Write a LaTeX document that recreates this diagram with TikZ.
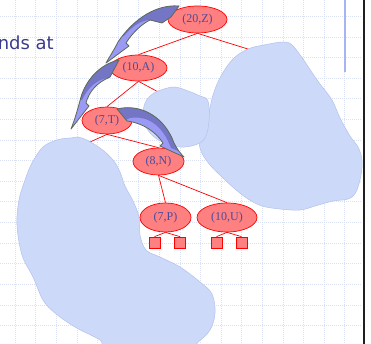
\documentclass[tikz,border=0pt]{standalone}
\usepackage{fontspec}
\setmainfont{Liberation Serif}
\newfontfamily\slidefont{DejaVu Sans}
\usetikzlibrary{shapes.geometric}

\definecolor{gridblue}{HTML}{DAE1F5}
\definecolor{blobfill}{HTML}{CDD9F8}
\definecolor{blobedge}{HTML}{B2C2EE}
\definecolor{nodefill}{HTML}{FF8080}
\definecolor{nodetext}{HTML}{4B4B9B}
\definecolor{slidetext}{HTML}{3C3C8C}
\definecolor{arrowlight}{HTML}{9A9AF4}
\definecolor{arrowdark}{HTML}{7575C6}
\definecolor{arrowedge}{HTML}{5C6B55}
\definecolor{barblue}{HTML}{A6B4F2}

\pgfdeclarelayer{gridlayer}
\pgfdeclarelayer{edgelayer}
\pgfdeclarelayer{bloblayer}
\pgfsetlayers{gridlayer,edgelayer,bloblayer,main}

\tikzset{
  treenode/.style={ellipse, draw=red, fill=nodefill, line width=0.7pt, inner sep=0pt,
    text=nodetext, font=\fontsize{12}{14}\selectfont},
  leafbox/.style={rectangle, draw=red, fill=nodefill, line width=0.7pt,
    minimum size=11pt, inner sep=0pt},
  treeedge/.style={draw=red, line width=0.7pt},
  blob/.style={fill=blobfill, draw=blobedge, line width=0.5pt},
  gridline/.style={draw=gridblue, line width=0.6pt, dash pattern=on 1pt off 1pt},
  arrowoutline/.style={draw=arrowedge, line width=0.8pt, line join=round},
}

\begin{document}
\begin{tikzpicture}[x=1pt, y=-1pt]
\useasboundingbox (0,0) rectangle (371,344);
\clip (0,0) rectangle (371,344);

% slide background, grid, heading fragment, side bars
\begin{pgfonlayer}{gridlayer}
  \fill[white] (0,0) rectangle (371,344);
  \foreach \i in {0,...,16}
    \draw[gridline] ({15+20.6*\i},0) -- ({15+20.6*\i},344);
  \foreach \j in {0,...,16}
    \draw[gridline] (0,{16.4+20.6*\j}) -- (362,{16.4+20.6*\j});
  \node[anchor=base east, inner sep=0pt, text=slidetext,
        font=\slidefont\fontsize{18}{22}\selectfont] (heading) at (54,50) {nds at};
  \draw[barblue, line width=1.5pt] (345,0) -- (345,72);
  \fill[black!88] (362.5,0) rectangle (364.5,344);
\end{pgfonlayer}

% tree nodes
\node[treenode, minimum width=59pt, minimum height=27pt] (z) at (197.5,19.5) {(20,Z)};
\node[treenode, minimum width=57pt, minimum height=26pt] (a) at (138.5,68) {(10,A)};
\node[treenode, minimum width=50pt, minimum height=27pt] (t) at (107,120.5) {(7,T)};
\node[treenode, minimum width=51pt, minimum height=27pt] (n) at (158.5,161.5) {(8,N)};
\node[treenode, minimum width=51pt, minimum height=29pt] (p) at (165.5,217.5) {(7,P)};
\node[treenode, minimum width=60pt, minimum height=29pt] (u) at (227,217.5) {(10,U)};
\node[leafbox] (p1) at (154.5,242.5) {};
\node[leafbox] (p2) at (180,242.5) {};
\node[leafbox] (u1) at (216.5,242.5) {};
\node[leafbox] (u2) at (241.5,242.5) {};

% subtrees hidden behind the blobs
\coordinate (zr) at (280,59);
\coordinate (ar) at (175,101);
\coordinate (tl) at (70,151);

\begin{pgfonlayer}{edgelayer}
  \draw[treeedge] (z.south) -- (a.north);
  \draw[treeedge] (z.south) -- (zr);
  \draw[treeedge] (a.south) -- (t.north);
  \draw[treeedge] (a.south) -- (ar);
  \draw[treeedge] (t.south) -- (n.north);
  \draw[treeedge] (t.south) -- (tl);
  \draw[treeedge] (n.south) -- (p.north);
  \draw[treeedge] (n.south) -- (u.north);
  \draw[treeedge] (p.south) -- (p1.north);
  \draw[treeedge] (p.south) -- (p2.north);
  \draw[treeedge] (u.south) -- (u1.north);
  \draw[treeedge] (u.south) -- (u2.north);
\end{pgfonlayer}

% blobs standing for whole subtrees
\begin{pgfonlayer}{bloblayer}
  \path[blob] plot[smooth cycle, tension=0.6] coordinates {
    (207,120) (213,95) (221,76) (233,59) (248,49) (264,45) (283,42) (292,45)
    (303,59) (311,71) (320,84) (332,100) (340,118) (350,136) (358,147)
    (362,160) (361,175) (356,192) (348,199) (333,201) (315,206) (300,210)
    (280,209) (262,206) (248,199) (235,189) (222,177) (210,165) (201,151) (199,135)};
  \path[blob] plot[smooth cycle, tension=0.6] coordinates {
    (143,113) (146,101) (154,93) (164,89) (175,87) (188,91) (200,96) (208,101)
    (209,121) (205,138) (195,145) (180,147) (165,143) (153,136) (145,125)};
  \path[blob] plot[smooth cycle, tension=0.6] coordinates {
    (43,147) (57,140) (70,138) (82,138) (100,148) (113,160) (120,172) (125,186)
    (133,201) (139,217) (140,235) (146,250) (160,257) (180,267) (200,282)
    (212,294) (215,313) (210,330) (198,342) (185,350) (110,350) (100,340)
    (75,327) (55,313) (43,300) (33,277) (22,255) (17,225) (19,200) (25,180) (32,163)};
\end{pgfonlayer}

% curved arrows along the search path
% Z -> A
\fill[arrowlight] (179,6) .. controls (152,4) and (130,24) .. (118,42)
  .. controls (114,50) and (110,56) .. (106,63) -- (129,46) -- (126,43)
  .. controls (133,32) and (142,24) .. (150,20) -- (162,23) -- (171,17) -- cycle;
\begin{scope}
  \clip (179,6) .. controls (152,4) and (130,24) .. (118,42)
    .. controls (114,50) and (110,56) .. (106,63) -- (129,46) -- (126,43)
    .. controls (133,32) and (142,24) .. (150,20) -- (162,23) -- (171,17) -- cycle;
  \fill[arrowdark] (162,23) -- (150,20) .. controls (143,20) and (133,25) .. (124,36)
    -- (100,36) -- (100,0) -- (195,0) -- (195,25) -- cycle;
\end{scope}
\draw[arrowoutline] (179,6) .. controls (152,4) and (130,24) .. (118,42)
  .. controls (114,50) and (110,56) .. (106,63) -- (129,46) -- (126,43)
  .. controls (133,32) and (142,24) .. (150,20) -- (162,23) -- (171,17) -- cycle;

% A -> T
\fill[arrowlight] (119,60) .. controls (100,64) and (86,80) .. (81,97)
  .. controls (78,108) and (75,119) .. (71,129) -- (89,106) -- (86,103)
  .. controls (89,92) and (96,83) .. (110,77) -- cycle;
\begin{scope}
  \clip (119,60) .. controls (100,64) and (86,80) .. (81,97)
    .. controls (78,108) and (75,119) .. (71,129) -- (89,106) -- (86,103)
    .. controls (89,92) and (96,83) .. (110,77) -- cycle;
  \fill[arrowdark] (108,78) .. controls (98,79) and (88,87) .. (82,100)
    -- (60,100) -- (60,50) -- (130,50) -- (130,76) -- cycle;
\end{scope}
\draw[arrowoutline] (119,60) .. controls (100,64) and (86,80) .. (81,97)
  .. controls (78,108) and (75,119) .. (71,129) -- (89,106) -- (86,103)
  .. controls (89,92) and (96,83) .. (110,77) -- cycle;

% T -> N
\fill[arrowlight] (117,109) .. controls (142,103) and (165,118) .. (174,143)
  .. controls (177,149) and (180,153) .. (184,157) -- (160,146) -- (163,143)
  .. controls (156,132) and (143,123) .. (127,121) -- cycle;
\begin{scope}
  \clip (117,109) .. controls (142,103) and (165,118) .. (174,143)
    .. controls (177,149) and (180,153) .. (184,157) -- (160,146) -- (163,143)
    .. controls (156,132) and (143,123) .. (127,121) -- cycle;
  \fill[arrowdark] (130,118) .. controls (148,115) and (163,126) .. (171,148)
    -- (200,160) -- (200,90) -- (105,90) -- (105,130) -- cycle;
\end{scope}
\draw[arrowoutline] (117,109) .. controls (142,103) and (165,118) .. (174,143)
  .. controls (177,149) and (180,153) .. (184,157) -- (160,146) -- (163,143)
  .. controls (156,132) and (143,123) .. (127,121) -- cycle;
\end{tikzpicture}
\end{document}
